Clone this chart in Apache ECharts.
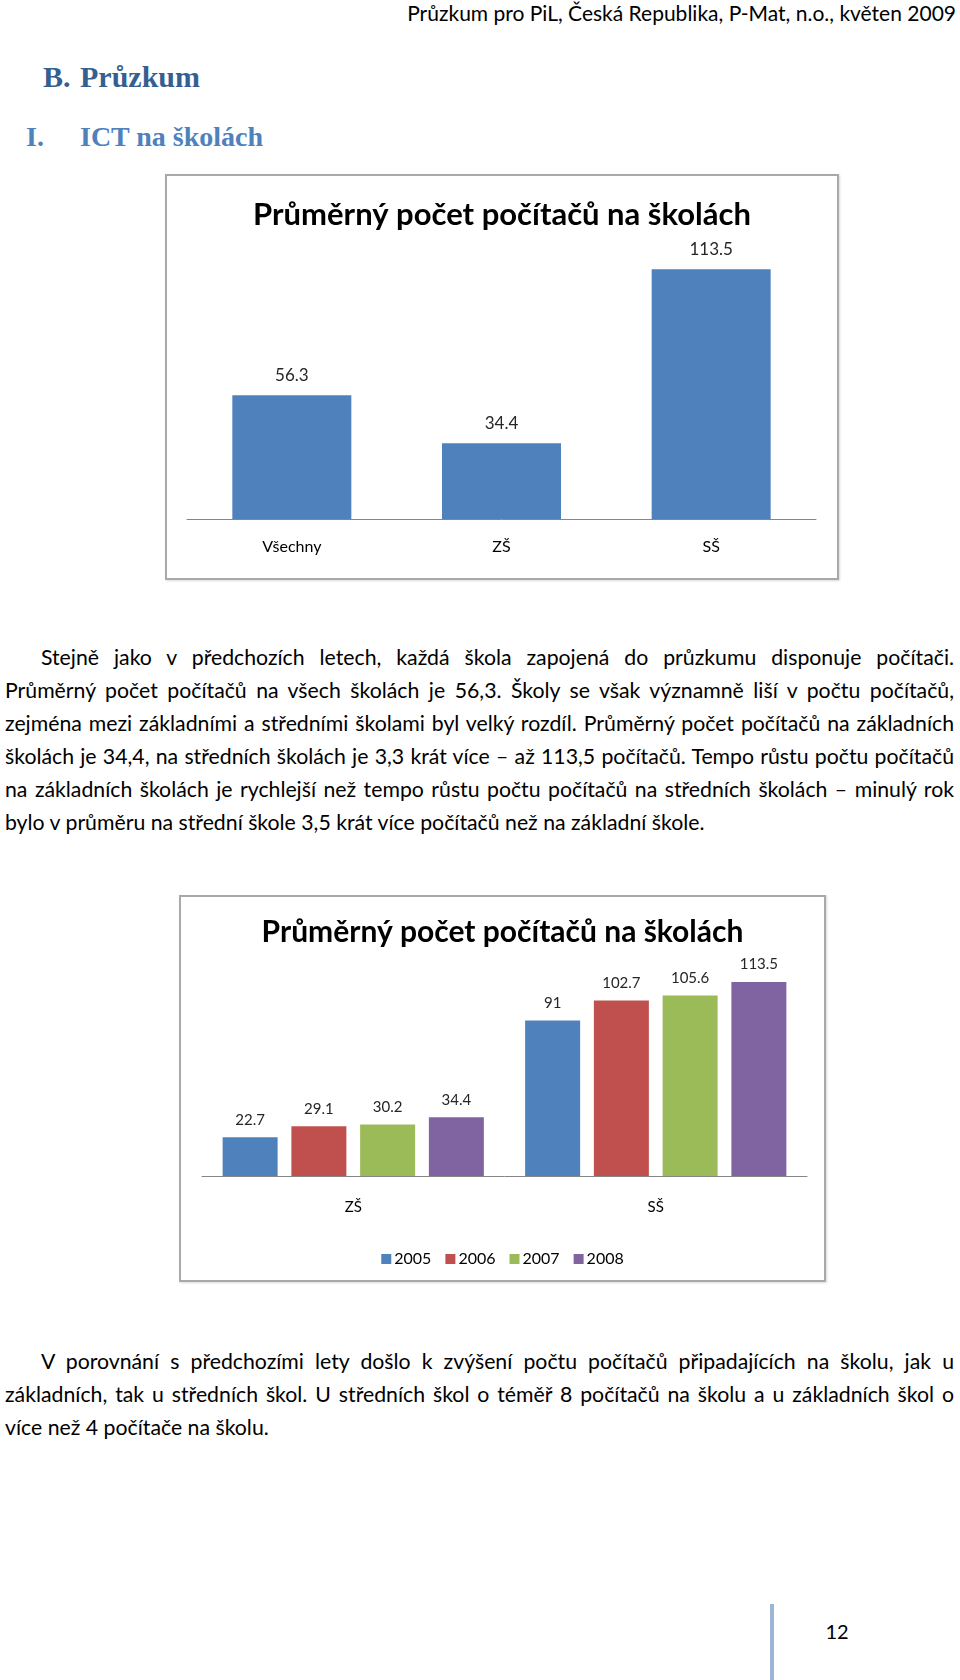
<!DOCTYPE html>
<html>
<head>
<meta charset="utf-8">
<script src="https://cdn.jsdelivr.net/npm/echarts@6/dist/echarts.min.js"></script>
<style>
  html, body { margin: 0; padding: 0; background: #fff; }
  #page { position: relative; width: 960px; height: 1680px; overflow: hidden; background: #fff; font-family: Lato, "Noto Sans", sans-serif; color: #000; }
  .abs { position: absolute; }
  .line { position: absolute; left: 5px; width: 949px; height: 33px; line-height: 33px; white-space: normal; overflow: visible; }
  .j { text-align: justify; text-align-last: justify; }
  .l { text-align: left; }
  .frame { position: absolute; border: 2px solid #A9A9A9; box-sizing: border-box; pointer-events: none; box-shadow: 1px 1px 2px rgba(0,0,0,0.15); }
</style>
</head>
<body>
<div id="page">
  <div class="abs" id="hdr" style="right:4px; top:1px; font-size:21px; line-height:24px;">Průzkum pro PiL, Česká Republika, P-Mat, n.o., květen 2009</div>
  <div class="abs" style="left:43px; top:60px; font-family:'Liberation Serif', serif; font-weight:bold; font-size:30px; line-height:34px; color:#365F91;">B.<span style="position:absolute; left:37px;">Průzkum</span></div>
  <div class="abs" style="left:26px; top:120px; font-family:'Liberation Serif', serif; font-weight:bold; font-size:28px; line-height:34px; color:#4F81BD; width:300px;">I.<span style="position:absolute; left:54px;">ICT na školách</span></div>

  <div id="chart1" class="abs" style="left:166px; top:175px; width:672px; height:404px;"></div>
  <div class="frame" style="left:165px; top:174px; width:674px; height:406px;"></div>

  <div id="chart2" class="abs" style="left:180px; top:896px; width:645px; height:385px;"></div>
  <div class="frame" style="left:179px; top:895px; width:647px; height:387px;"></div>

  <div class="abs" style="left:770px; top:1604px; width:4px; height:76px; background:#9DB6D6;"></div>
  <div class="abs" style="left:817px; top:1618px; width:40px; text-align:center; font-size:20px; line-height:26px;">12</div>
</div>
<script>
// ---- Data ----
const chart1Title = 'Průměrný počet počítačů na školách';
const chart1Categories = ['Všechny', 'ZŠ', 'SŠ'];
const chart1Values = [56.3, 34.4, 113.5];

const chart2Title = 'Průměrný počet počítačů na školách';
const chart2Categories = ['ZŠ', 'SŠ'];
const years = ['2005', '2006', '2007', '2008'];
const values2005 = [22.7, 91];
const values2006 = [29.1, 102.7];
const values2007 = [30.2, 105.6];
const values2008 = [34.4, 113.5];

const paragraph1 = [
  'Stejně jako v předchozích letech, každá škola zapojená do průzkumu disponuje počítači.',
  'Průměrný počet počítačů na všech školách je 56,3. Školy se však významně liší v počtu počítačů,',
  'zejména mezi základními a středními školami byl velký rozdíl. Průměrný počet počítačů na základních',
  'školách je 34,4, na středních školách je 3,3 krát více – až 113,5 počítačů. Tempo růstu počtu počítačů',
  'na základních školách je rychlejší než tempo růstu počtu počítačů na středních školách – minulý rok',
  'bylo v průměru na střední škole 3,5 krát více počítačů než na základní škole.'
];
const paragraph2 = [
  'V porovnání s předchozími lety došlo k zvýšení počtu počítačů připadajících na školu, jak u',
  'základních, tak u středních škol. U středních škol o téměř 8 počítačů na školu a u základních škol o',
  'více než 4 počítače na školu.'
];

// ---- Text layout ----
const page = document.getElementById('page');
const cv = document.createElement('canvas').getContext('2d');
const FONT = 'Lato, "Noto Sans", sans-serif';
const INDENT = 36;
const WIDTH = 949;
function natural(txt, size) { cv.font = size + 'px ' + FONT; return cv.measureText(txt).width; }
// font size chosen so that the unjustified last lines match the reference widths
const s1 = 19.5 * 704 / natural(paragraph1[paragraph1.length - 1], 19.5);
const s2 = 19.5 * 263 / natural(paragraph2[paragraph2.length - 1], 19.5);
const size = (s1 + s2) / 2;
function placePara(lines, top0) {
  lines.forEach((t, i) => {
    const d = document.createElement('div');
    const last = i === lines.length - 1;
    d.className = 'line ' + (last ? 'l' : 'j');
    d.style.top = (top0 + i * 33) + 'px';
    d.style.fontSize = size + 'px';
    const avail = WIDTH - (i === 0 ? INDENT : 0);
    if (i === 0) { d.style.left = (5 + INDENT) + 'px'; d.style.width = avail + 'px'; }
    if (!last) {
      const w = natural(t, size);
      const target = avail - 6;
      if (w > target) d.style.letterSpacing = ((target - w) / t.length) + 'px';
    }
    d.textContent = t;
    page.appendChild(d);
  });
}
placePara(paragraph1, 641);
placePara(paragraph2, 1345);

// ---- Charts ----
const CF = 'Lato, "Noto Sans", sans-serif';
const c1 = echarts.init(document.getElementById('chart1'), null, { renderer: 'canvas' });
c1.setOption({
  animation: false,
  title: { text: chart1Title, left: 'center', top: 19, textStyle: { fontFamily: CF, fontSize: 31, fontWeight: 'bold', color: '#000' } },
  grid: { left: 21, right: 22, top: 80, bottom: 60 },
  xAxis: {
    type: 'category', data: chart1Categories,
    axisLine: { lineStyle: { color: '#868686', width: 1 } },
    axisTick: { show: false },
    axisLabel: { fontFamily: CF, fontSize: 16, color: '#000', margin: 20 }
  },
  yAxis: { type: 'value', min: 0, max: 120, show: false, splitLine: { show: false } },
  series: [{
    type: 'bar', data: chart1Values, barWidth: 119,
    itemStyle: { color: '#4F81BD' },
    label: { show: true, position: 'top', distance: 11, fontFamily: CF, fontSize: 17, color: '#262626' }
  }]
});

const colors = ['#4F81BD', '#C0504D', '#9BBB59', '#8064A2'];
const seriesData = [values2005, values2006, values2007, values2008];
const c2 = echarts.init(document.getElementById('chart2'), null, { renderer: 'canvas' });
c2.setOption({
  animation: false,
  color: colors,
  title: { text: chart2Title, left: 'center', top: 16, textStyle: { fontFamily: CF, fontSize: 30, fontWeight: 'bold', color: '#000' } },
  legend: {
    data: years, top: 350, left: 'center', icon: 'rect', itemWidth: 10, itemHeight: 10, itemGap: 14,
    textStyle: { fontFamily: CF, fontSize: 16, color: '#000', padding: [0, 0, 0, -2] }
  },
  grid: { left: 22, right: 18, top: 75, bottom: 105 },
  xAxis: {
    type: 'category', data: chart2Categories,
    axisLine: { lineStyle: { color: '#868686', width: 1 } },
    axisTick: { show: false },
    axisLabel: { fontFamily: CF, fontSize: 15, color: '#000', margin: 24 }
  },
  yAxis: { type: 'value', min: 0, max: 120, show: false, splitLine: { show: false } },
  series: years.map((y, i) => ({
    name: y, type: 'bar', data: seriesData[i], barWidth: 55, barGap: '25%',
    label: { show: true, position: 'top', distance: 10, fontFamily: CF, fontSize: 15, color: '#262626' }
  }))
});
</script>
</body>
</html>
